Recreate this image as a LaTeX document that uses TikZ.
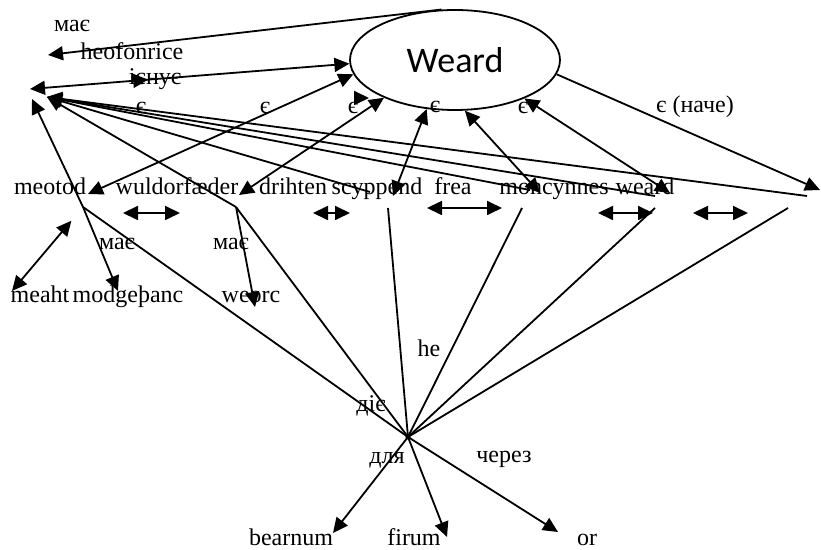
\documentclass[tikz,border=0pt]{standalone}
\usepackage{fontspec}
\setmainfont{Liberation Serif}
\newfontfamily\calibri{Carlito}
\usetikzlibrary{arrows.meta,shapes.geometric,decorations.markings}
\tikzset{
	lbl/.style={inner sep=0pt, anchor=base, font=\fontsize{12}{14}\selectfont},
	pln/.style={line width=0.9pt},
	con/.style={pln, -{Triangle[length=7.5pt,width=7pt]}},
	dcon/.style={pln, {Triangle[length=7.5pt,width=7pt]}-{Triangle[length=7.5pt,width=7pt]}},
	midtip/.style={postaction={decorate}, decoration={markings, mark=at position #1 with {\arrow{Triangle[length=7.5pt,width=7pt]}}}},
}

\begin{document}
\begin{tikzpicture}[x=0.5pt,y=-0.5pt]
	\useasboundingbox (0,0) rectangle (821,550);
	\node[draw,ellipse,line width=0.9pt,minimum width=105pt,minimum height=50pt,inner sep=0pt,font=\calibri\fontsize{18}{20}\selectfont] (weard) at (455,60) {Weard};
	\node[lbl] (mae1) at (72,32) {має};
	\node[lbl] (heofon) at (132,60) {heofonrice};
	\node[lbl] (isnue) at (155,85) {існує};
	\node[lbl] (e1) at (141,114) {є};
	\node[lbl] (e2) at (265,114) {є};
	\node[lbl] (e3) at (353,114) {є};
	\node[lbl] (e4) at (435,113) {є};
	\node[lbl] (e5) at (523,114) {є};
	\node[lbl] (nache) at (695,113) {є (наче)};
	\node[lbl] (meotod) at (50,195) {meotod};
	\node[lbl] (wuldor) at (177,195) {wuldorfæder};
	\node[lbl] (drihten) at (293,195) {drihten};
	\node[lbl] (scyppend) at (377,195) {scyppend};
	\node[lbl] (frea) at (453,195) {frea};
	\node[lbl] (moncynnes) at (554,195) {moncynnes};
	\node[lbl] (weardw) at (645,195) {weard};
	\node[lbl] (mae2) at (117,250) {має};
	\node[lbl] (mae3) at (231,250) {має};
	\node[lbl] (meaht) at (40,303) {meaht};
	\node[lbl] (modgethanc) at (128,303) {modgeþanc};
	\node[lbl] (weorc) at (251,303) {weorc};
	\node[lbl] (he) at (429,357) {he};
	\node[lbl] (die) at (371,412) {діє};
	\node[lbl] (dlia) at (387,464) {для};
	\node[lbl] (cherez) at (504,463) {через};
	\node[lbl] (bearnum) at (291,546) {bearnum};
	\node[lbl] (firum) at (414,546) {firum};
	\node[lbl] (or) at (587,546) {or};

	\coordinate (clus) at (47,97);
	\coordinate (clusa) at (30,89);
	\coordinate (clusb) at (32,99);
	\coordinate (heoftip) at (48,55);
	\coordinate (hub) at (408,437);
	\coordinate (J1) at (83,207);
	\coordinate (J2) at (236,207);
	\coordinate (J3) at (388,208);
	\coordinate (J4) at (522,208);
	\coordinate (J5) at (655,208);
	\coordinate (J6) at (788,208);
	\coordinate (E1) at (807,196);
	\coordinate (E2) at (655,196);
	\coordinate (E3) at (530,190);
	\coordinate (E4) at (370,192);
	\coordinate (meotodtip) at (88,194);
	\coordinate (wuldortip) at (239,195);
	\coordinate (scytip) at (393,196);
	\coordinate (montip) at (540,193);
	\coordinate (weardtip) at (670,193);
	\coordinate (nachetip) at (820,190);
	\coordinate (modtip) at (118,291);
	\coordinate (meahttip) at (12,291);
	\coordinate (weorctip) at (255,307);
	\coordinate (beartip) at (333,533);
	\coordinate (firtip) at (447,537);
	\coordinate (ortip) at (558,532);
	\coordinate (sa) at (354,98);
	\coordinate (sb) at (369,98);

	\draw[con] (weard.105) -- (heoftip);
	\draw[dcon,midtip=0.37] (clusa) -- (weard.182);
	\draw[dcon] (meotodtip) -- (weard.188);
	\draw[dcon] (wuldortip) -- (weard.208);
	\draw[dcon] (scytip) -- (weard.240);
	\draw[dcon] (montip) -- (weard.281);
	\draw[dcon] (weardtip) -- (weard.331);
	\draw[con] (weard.352) -- (nachetip);
	\draw[con] (sa) -- (sb);

	\draw[con] (E1) -- (clus);
	\draw[con] (E2) -- (clus);
	\draw[con] (E3) -- (clus);
	\draw[con] (E4) -- (clus);
	\draw[con] (J2) -- (clus);
	\draw[con] (J1) -- (clusb);

	\draw[con] (J1) -- (modtip);
	\draw[dcon,shorten <=9pt] (J1) -- (meahttip);
	\draw[con] (J2) -- (weorctip);

	\foreach \j in {J1,J2,J3,J4,J5,J6}
		\draw[pln] (hub) -- (\j);
	\fill (hub) circle (1.3pt);
	\draw[con] (hub) -- (beartip);
	\draw[con] (hub) -- (firtip);
	\draw[con] (hub) -- (ortip);

	\coordinate (h1a) at (123,213);
	\coordinate (h1b) at (180,213);
	\coordinate (h2a) at (313,213);
	\coordinate (h2b) at (350,213);
	\coordinate (h3a) at (427,208);
	\coordinate (h3b) at (502,208);
	\coordinate (h4a) at (598,213);
	\coordinate (h4b) at (653,213);
	\coordinate (h5a) at (693,213);
	\coordinate (h5b) at (748,213);
	\draw[dcon] (h1a) -- (h1b);
	\draw[dcon] (h2a) -- (h2b);
	\draw[dcon] (h3a) -- (h3b);
	\draw[dcon] (h4a) -- (h4b);
	\draw[dcon] (h5a) -- (h5b);
\end{tikzpicture}
\end{document}
